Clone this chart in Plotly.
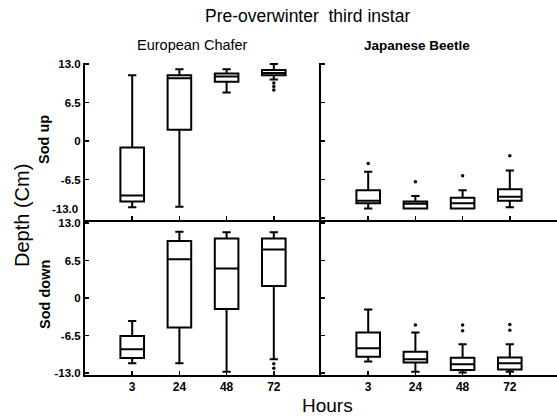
import plotly.graph_objects as go

# ---------------- data ----------------
hours = ["3", "24", "48", "72"]
hour_pos = [1, 2, 3, 4]
y_ticks = [13.0, 6.5, 0, -6.5, -13.0]
y_ticktext = ["13.0", "6.5", "0", "-6.5", "-13.0"]

# European Chafer, sod up
ec_up_low = [-11.2, -11.1, 8.2, 10.4]
ec_up_q1 = [-10.2, 1.9, 10.0, 11.1]
ec_up_med = [-9.2, 10.6, 10.9, 11.5]
ec_up_q3 = [-1.1, 11.1, 11.4, 12.0]
ec_up_high = [11.1, 12.1, 12.1, 13.0]
ec_up_out_x = [4, 4, 4]
ec_up_out_y = [9.8, 9.2, 8.6]

# Japanese Beetle, sod up
jb_up_low = [-11.4, -11.4, -11.4, -11.2]
jb_up_q1 = [-10.5, -11.4, -11.4, -10.1]
jb_up_med = [-10.1, -10.6, -10.5, -9.4]
jb_up_q3 = [-8.3, -10.2, -9.6, -8.15]
jb_up_high = [-5.2, -9.3, -8.3, -5.0]
jb_up_out_x = [1, 2, 3, 4]
jb_up_out_y = [-3.8, -6.9, -5.85, -2.5]

# European Chafer, sod down
ec_dn_low = [-11.3, -11.3, -12.8, -10.6]
ec_dn_q1 = [-10.4, -5.1, -1.9, 2.1]
ec_dn_med = [-8.9, 6.7, 5.1, 8.4]
ec_dn_q3 = [-6.6, 9.9, 10.3, 10.3]
ec_dn_high = [-4.0, 11.5, 11.4, 11.4]
ec_dn_out_x = [4, 4]
ec_dn_out_y = [-11.4, -12.2]

# Japanese Beetle, sod down
jb_dn_low = [-11.0, -12.8, -12.9, -12.8]
jb_dn_q1 = [-10.2, -11.2, -12.5, -12.4]
jb_dn_med = [-8.7, -10.6, -11.5, -11.3]
jb_dn_q3 = [-6.0, -9.3, -10.35, -10.3]
jb_dn_high = [-2.0, -6.0, -8.0, -8.0]
jb_dn_out_x = [2, 3, 3, 4, 4]
jb_dn_out_y = [-4.7, -4.7, -5.7, -4.6, -5.6]

FONT = "Liberation Sans, Arial, Helvetica, sans-serif"

fig = go.Figure()

panels = [
    ("x", "y", ec_up_low, ec_up_q1, ec_up_med, ec_up_q3, ec_up_high, ec_up_out_x, ec_up_out_y),
    ("x2", "y2", jb_up_low, jb_up_q1, jb_up_med, jb_up_q3, jb_up_high, jb_up_out_x, jb_up_out_y),
    ("x3", "y3", ec_dn_low, ec_dn_q1, ec_dn_med, ec_dn_q3, ec_dn_high, ec_dn_out_x, ec_dn_out_y),
    ("x4", "y4", jb_dn_low, jb_dn_q1, jb_dn_med, jb_dn_q3, jb_dn_high, jb_dn_out_x, jb_dn_out_y),
]

for xa, ya, lo, q1, med, q3, hi, ox, oy in panels:
    fig.add_trace(go.Box(
        x=hour_pos, lowerfence=lo, q1=q1, median=med, q3=q3, upperfence=hi,
        xaxis=xa, yaxis=ya, width=0.5, whiskerwidth=0.35,
        fillcolor="white", line=dict(color="black", width=2),
        boxpoints=False, showlegend=False, hoverinfo="skip",
    ))
    fig.add_trace(go.Scatter(
        x=ox, y=oy, xaxis=xa, yaxis=ya, mode="markers",
        marker=dict(color="black", size=3.5), showlegend=False, hoverinfo="skip",
    ))

split = 155 / 312
top_dom = [split, 1]
bot_dom = [0, split]

xbase = dict(range=[0, 5], tickvals=hour_pos, ticktext=hours, showgrid=False,
             zeroline=False, showline=True, linecolor="black", linewidth=2,
             ticks="inside", ticklen=4, tickcolor="black", tickwidth=1.5,
             tickfont=dict(family=FONT, size=12, color="black", weight="bold"))
ybase = dict(tickvals=y_ticks, ticktext=y_ticktext, showgrid=False, zeroline=False,
             showline=True, linecolor="black", linewidth=2,
             ticks="inside", ticklen=4, tickcolor="black", tickwidth=1.5,
             tickfont=dict(family=FONT, size=11.5, color="black", weight="bold"))

fig.update_layout(
    width=557, height=416,
    margin=dict(l=85, r=0, t=63, b=41),
    paper_bgcolor="white", plot_bgcolor="white",
    xaxis=dict(xbase, domain=[0, 0.5], anchor="y", showticklabels=False),
    xaxis2=dict(xbase, domain=[0.5, 1], anchor="y2", showticklabels=False),
    xaxis3=dict(xbase, domain=[0, 0.5], anchor="y3"),
    xaxis4=dict(xbase, domain=[0.5, 1], anchor="y4"),
    yaxis=dict(ybase, domain=top_dom, anchor="x", range=[-13.34, 13.17],
               tickvals=y_ticks[:4], ticktext=y_ticktext[:4]),
    yaxis2=dict(ybase, domain=top_dom, anchor="x2", range=[-13.34, 13.17], showticklabels=False),
    yaxis3=dict(ybase, domain=bot_dom, anchor="x3", range=[-13.35, 13.52]),
    yaxis4=dict(ybase, domain=bot_dom, anchor="x4", range=[-13.35, 13.52], showticklabels=False),
    font=dict(family=FONT, color="black"),
    hovermode=False,
)

annotations = [
    dict(text="Pre-overwinter  third instar", x=307, y=416 - 16, size=17.5, angle=0, weight="normal"),
    dict(text="European Chafer", x=192, y=416 - 45, size=14.5, angle=0, weight="normal"),
    dict(text="Japanese Beetle", x=417, y=416 - 46, size=13.5, angle=0, weight="bold"),
    dict(text="Depth (Cm)", x=22, y=416 - 216, size=20, angle=-90, weight="normal"),
    dict(text="Sod up", x=44, y=416 - 140, size=14.5, angle=-90, weight="bold"),
    dict(text="Sod down", x=45, y=416 - 295, size=14.5, angle=-90, weight="bold"),
    dict(text="Hours", x=327, y=416 - 405, size=19, angle=0, weight="normal"),
]
for a in annotations:
    fig.add_annotation(
        text=a["text"], xref="paper", yref="paper",
        x=(a["x"] - 85) / 472, y=(a["y"] - 41) / 312,
        xanchor="center", yanchor="middle", showarrow=False, textangle=a["angle"],
        font=dict(family=FONT, size=a["size"], color="black", weight=a["weight"]),
    )

# shifted "-13.0" label of the upper panel (as in the original)
fig.add_annotation(
    text=y_ticktext[4], xref="paper", yref="y", x=0, y=-11.5, xanchor="right",
    yanchor="middle", xshift=-5, showarrow=False,
    font=dict(family=FONT, size=11.5, color="black", weight="bold"),
)

fig.write_html(
    "out.html",
    config={"displayModeBar": False, "staticPlot": True},
    post_script="document.body.style.margin='0';document.body.style.overflow='hidden';",
)
